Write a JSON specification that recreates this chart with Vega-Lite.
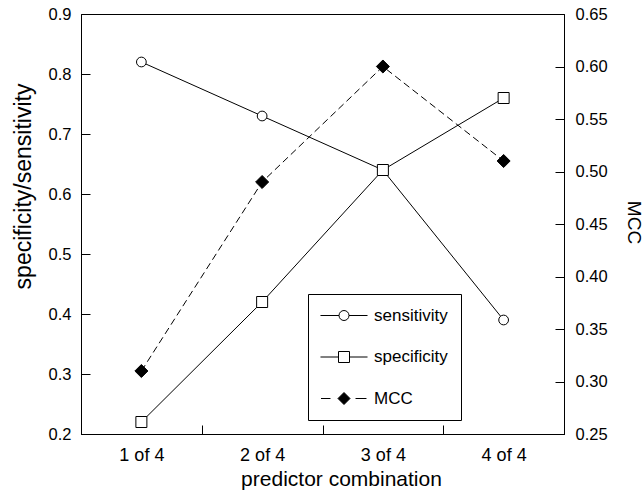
{
  "$schema": "https://vega.github.io/schema/vega-lite/v6.json",
  "width": 483,
  "height": 420,
  "autosize": {"type": "none"},
  "padding": {"left": 81, "top": 14, "right": 79, "bottom": 59},
  "background": "white",
  "config": {
    "view": {"stroke": "black", "strokeWidth": 1},
    "font": "Liberation Sans",
    "axis": {
      "domainColor": "black", "tickColor": "black", "labelColor": "black", "titleColor": "black",
      "grid": false, "labelFont": "Liberation Sans", "titleFont": "Liberation Sans",
      "titleFontWeight": "normal", "tickSize": -9, "domainWidth": 1, "tickWidth": 1
    }
  },
  "data": {
    "values": [
      {"combo": "1 of 4", "series": "sensitivity", "value": 0.82},
      {"combo": "2 of 4", "series": "sensitivity", "value": 0.73},
      {"combo": "3 of 4", "series": "sensitivity", "value": 0.64},
      {"combo": "4 of 4", "series": "sensitivity", "value": 0.39},
      {"combo": "1 of 4", "series": "specificity", "value": 0.22},
      {"combo": "2 of 4", "series": "specificity", "value": 0.42},
      {"combo": "3 of 4", "series": "specificity", "value": 0.64},
      {"combo": "4 of 4", "series": "specificity", "value": 0.76},
      {"combo": "1 of 4", "series": "MCC", "value": 0.31},
      {"combo": "2 of 4", "series": "MCC", "value": 0.49},
      {"combo": "3 of 4", "series": "MCC", "value": 0.60},
      {"combo": "4 of 4", "series": "MCC", "value": 0.51}
    ]
  },
  "layer": [
    {
      "transform": [{"filter": "datum.series !== 'MCC'"}],
      "encoding": {
        "x": {
          "field": "combo", "type": "nominal",
          "sort": ["1 of 4", "2 of 4", "3 of 4", "4 of 4"],
          "scale": {"type": "band", "paddingInner": 0, "paddingOuter": 0},
          "axis": {
            "title": "predictor combination", "labelAngle": 0, "tickBand": "extent",
            "labelFontSize": 18, "labelPadding": 21, "titleFontSize": 21,
            "titleX": 260, "titleY": 34, "titleBaseline": "top", "titleAlign": "center"
          }
        },
        "y": {
          "field": "value", "type": "quantitative",
          "scale": {"domain": [0.2, 0.9], "nice": false, "zero": false},
          "axis": {
            "title": "specificity/sensitivity", "orient": "left",
            "values": [0.2, 0.3, 0.4, 0.5, 0.6, 0.7, 0.8, 0.9], "format": ".1f",
            "labelFontSize": 16.5, "labelPadding": 19, "titleFontSize": 23,
            "titleX": -46, "titleY": 172, "titleBaseline": "bottom", "titleAlign": "center", "titleAngle": -90
          }
        }
      },
      "layer": [
        {"mark": {"type": "line", "color": "black", "strokeWidth": 1}, "encoding": {"detail": {"field": "series"}}},
        {
          "transform": [{"filter": "datum.series === 'sensitivity'"}],
          "mark": {"type": "point", "shape": "circle", "filled": true, "fill": "white", "stroke": "black", "strokeWidth": 1, "size": 95, "opacity": 1}
        },
        {
          "transform": [{"filter": "datum.series === 'specificity'"}],
          "mark": {"type": "point", "shape": "square", "filled": true, "fill": "white", "stroke": "black", "strokeWidth": 1, "size": 121, "opacity": 1}
        }
      ]
    },
    {
      "transform": [{"filter": "datum.series === 'MCC'"}],
      "encoding": {
        "x": {
          "field": "combo", "type": "nominal",
          "sort": ["1 of 4", "2 of 4", "3 of 4", "4 of 4"],
          "scale": {"type": "band", "paddingInner": 0, "paddingOuter": 0}
        },
        "y": {
          "field": "value", "type": "quantitative",
          "scale": {"domain": [0.25, 0.65], "nice": false, "zero": false},
          "axis": {
            "title": "MCC", "orient": "right",
            "values": [0.25, 0.3, 0.35, 0.4, 0.45, 0.5, 0.55, 0.6, 0.65], "format": ".2f",
            "labelFontSize": 16.5, "labelPadding": 20, "titleFontSize": 19,
            "titleX": 63, "titleY": 208, "titleBaseline": "alphabetic", "titleAlign": "center", "titleAngle": 90
          }
        }
      },
      "layer": [
        {"mark": {"type": "line", "color": "black", "strokeWidth": 1, "strokeDash": [7, 4]}},
        {"mark": {"type": "point", "shape": "diamond", "filled": true, "fill": "black", "stroke": "black", "strokeWidth": 1, "size": 170, "opacity": 1}}
      ]
    },
    {
      "mark": {"type": "point", "filled": true, "opacity": 0, "size": 256, "stroke": "black", "strokeWidth": 1},
      "encoding": {
        "shape": {
          "field": "series", "type": "nominal",
          "scale": {
            "domain": ["sensitivity", "specificity", "MCC"],
            "range": [
              "M-2.94,0L-0.625,0M0.625,0A0.625,0.625,0,1,1,-0.625,0A0.625,0.625,0,1,1,0.625,0ZM0.625,0L2.94,0",
              "M-2.94,0L-0.6875,0M-0.6875,-0.6875L0.6875,-0.6875L0.6875,0.6875L-0.6875,0.6875ZM0.6875,0L2.94,0",
              "M-2.875,0L-1.69,0M0,-0.75L0.75,0L0,0.75L-0.75,0ZM1.44,0L2.81,0"
            ]
          },
          "legend": {
            "title": null, "orient": "none", "legendX": 227, "legendY": 280,
            "strokeColor": "black", "fillColor": "white", "padding": 13,
            "labelFontSize": 17, "labelOffset": 21.5, "symbolOffset": 14.5, "rowPadding": 23.5, "symbolSize": 256,
            "symbolOpacity": 1, "symbolStrokeColor": "black", "symbolStrokeWidth": 1,
            "encode": {"symbols": {"update": {"stroke": {"value": "black"}, "strokeWidth": {"value": 1}, "opacity": {"value": 1}}}}
          }
        },
        "fill": {
          "field": "series", "type": "nominal",
          "scale": {"domain": ["sensitivity", "specificity", "MCC"], "range": ["white", "white", "black"]},
          "legend": {
            "title": null, "orient": "none", "legendX": 227, "legendY": 280,
            "strokeColor": "black", "fillColor": "white", "padding": 13,
            "labelFontSize": 17, "labelOffset": 21.5, "symbolOffset": 14.5, "rowPadding": 23.5, "symbolSize": 256,
            "symbolOpacity": 1, "symbolStrokeColor": "black", "symbolStrokeWidth": 1,
            "encode": {"symbols": {"update": {"stroke": {"value": "black"}, "strokeWidth": {"value": 1}, "opacity": {"value": 1}}}}
          }
        }
      }
    }
  ],
  "resolve": {"scale": {"y": "independent"}}
}
